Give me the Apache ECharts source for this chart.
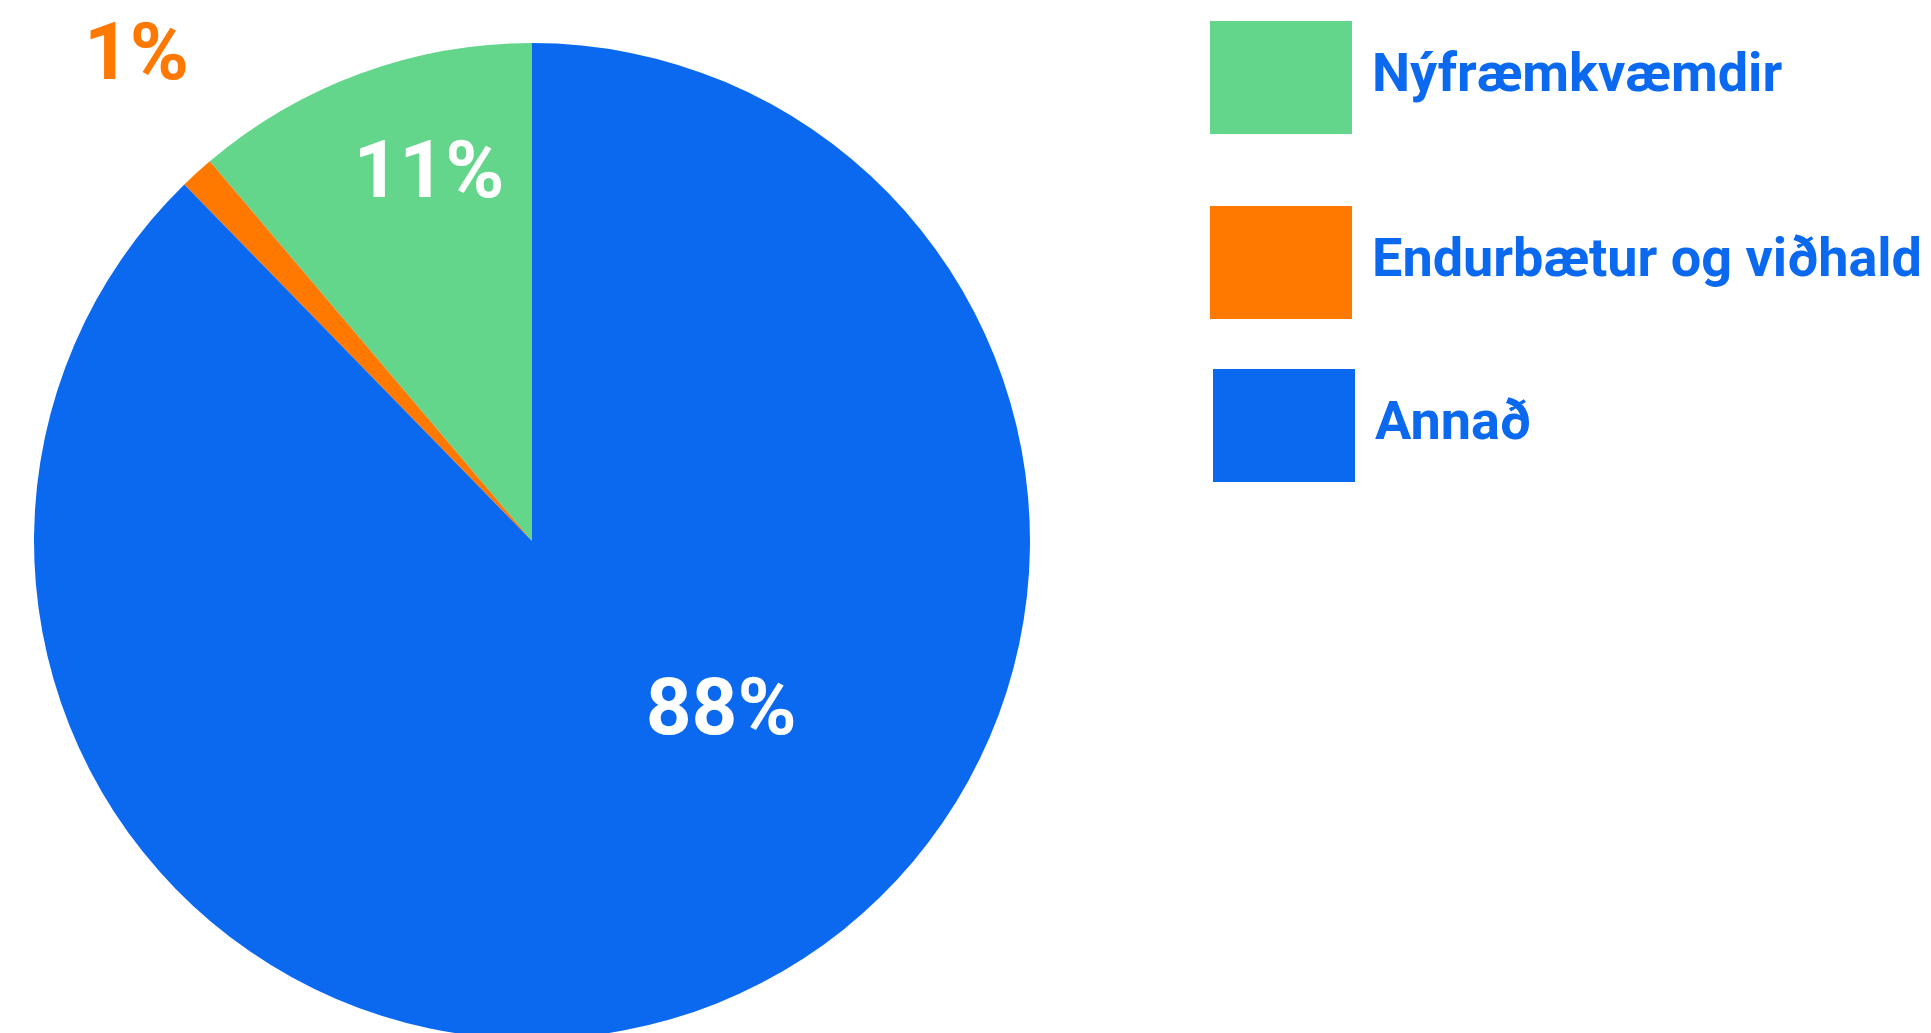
<!DOCTYPE html>
<html>
<head>
<meta charset="utf-8">
<title>Skipting</title>
<script src="https://cdn.jsdelivr.net/npm/echarts@6/dist/echarts.min.js"></script>
<style>
  html, body { margin: 0; padding: 0; background: #fff; }
  #chart { width: 1931px; height: 1033px; }
</style>
</head>
<body>
<div id="chart"></div>
<script>
// data
const categories = ['Nýfræmkvæmdir', 'Endurbætur og viðhald', 'Annað'];
const shares = [11.2, 1.1, 87.7];
const sliceColors = ['#64D68C', '#FF7800', '#0B69F0'];
const labelColors = ['#FFFFFF', '#FF7800', '#FFFFFF'];
// where each percent label sits: [angle in degrees, fraction of radius]
const labelSpots = [[105.5, 0.775], [128.9, 1.265], [-41.1, 0.504]];
// legend rows are not evenly spaced in the original
const legendLeft = [1210, 1210, 1213];
const legendTop = [21, 206, 369];

const CX = 532, CY = 541, R = 498;
const BLUE = '#0B69F0';

const chart = echarts.init(document.getElementById('chart'));

const legendStyle = {
  orient: 'vertical',
  padding: 0,
  icon: 'rect',
  itemWidth: 142,
  itemHeight: 113,
  selectedMode: false,
  textStyle: {
    fontFamily: 'Roboto',
    fontWeight: 'bold',
    fontSize: 54,
    color: BLUE,
    padding: [0, 0, 0, 15]
  }
};

chart.setOption({
  animation: false,
  legend: categories.map((name, i) => Object.assign({}, legendStyle, {
    left: legendLeft[i],
    top: legendTop[i],
    data: [name]
  })),
  series: [
    {
      type: 'pie',
      center: [CX, CY],
      radius: R,
      startAngle: 90,
      clockwise: false,
      avoidLabelOverlap: false,
      data: categories.map((name, i) => ({
        name: name,
        value: shares[i],
        itemStyle: { color: sliceColors[i] },
        label: { color: labelColors[i], position: i === 1 ? 'outside' : 'inside' }
      })),
      label: {
        show: true,
        fontFamily: 'Roboto',
        fontWeight: 'bold',
        fontSize: 80,
        formatter: (p) => Math.round(p.value) + '%'
      },
      labelLine: { show: false },
      emphasis: { disabled: true },
      labelLayout: (params) => {
        const spot = labelSpots[params.dataIndex];
        const a = spot[0] * Math.PI / 180;
        return {
          x: CX + Math.cos(a) * R * spot[1],
          y: CY - Math.sin(a) * R * spot[1] + 8,
          align: 'center',
          verticalAlign: 'middle'
        };
      }
    }
  ]
});
</script>
</body>
</html>
